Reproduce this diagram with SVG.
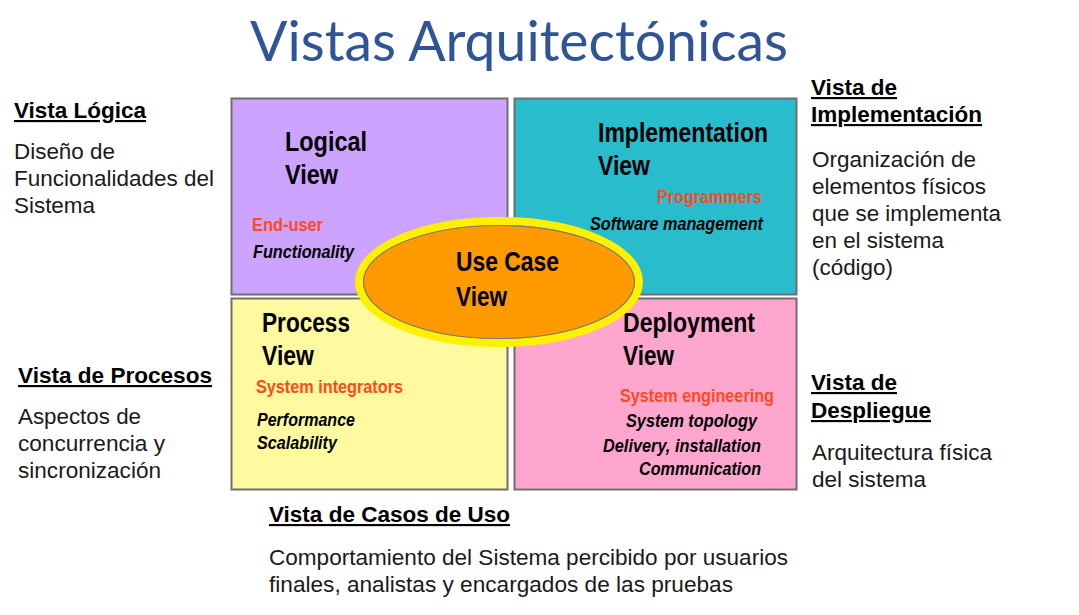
<svg xmlns="http://www.w3.org/2000/svg" width="1079" height="615" viewBox="0 0 1079 615">
  <style>
    .quad { stroke: #6e6e6e; stroke-width: 2; }
    .head { font-family: "Liberation Sans", Arial, sans-serif; font-weight: bold; font-size: 27px; fill: #000; }
    .role { font-family: "Liberation Sans", Arial, sans-serif; font-weight: bold; font-size: 18px; fill: #ff4a1c; }
    .item { font-family: "Liberation Sans", Arial, sans-serif; font-weight: bold; font-style: italic; font-size: 18px; fill: #000; }
    .side-h { font-family: "Liberation Sans", Arial, sans-serif; font-weight: bold; font-size: 21.5px; fill: #000; text-decoration: underline; }
    .side-t { font-family: "Liberation Sans", Arial, sans-serif; font-size: 22px; fill: #1a1a1a; }
    .title { font-family: Lato, "Open Sans", sans-serif; font-size: 56px; fill: #2f5597; }
  </style>

  <rect width="1079" height="615" fill="#ffffff"/>

  <text class="title" x="250" y="61" textLength="538" lengthAdjust="spacingAndGlyphs">Vistas Arquitectónicas</text>

  <g id="connectors"></g>

  <!-- Logical view quadrant -->
  <g id="logical-view">
    <rect class="quad" x="231.5" y="98.5" width="276" height="196" fill="#cca3fe"/>
    <text class="head" x="285" y="151" textLength="82" lengthAdjust="spacingAndGlyphs">Logical</text>
    <text class="head" x="285" y="184" textLength="53" lengthAdjust="spacingAndGlyphs">View</text>
    <text class="role" x="252" y="231" textLength="71" lengthAdjust="spacingAndGlyphs">End-user</text>
    <text class="item" x="253" y="258" textLength="101" lengthAdjust="spacingAndGlyphs">Functionality</text>
  </g>

  <!-- Implementation view quadrant -->
  <g id="implementation-view">
    <rect class="quad" x="514.5" y="98.5" width="282" height="196" fill="#29bccd"/>
    <text class="head" x="598" y="142" textLength="170" lengthAdjust="spacingAndGlyphs">Implementation</text>
    <text class="head" x="598" y="175" textLength="52" lengthAdjust="spacingAndGlyphs">View</text>
    <text class="role" x="657" y="203" textLength="105" lengthAdjust="spacingAndGlyphs">Programmers</text>
    <text class="item" x="590" y="230" textLength="173" lengthAdjust="spacingAndGlyphs">Software management</text>
  </g>

  <!-- Process view quadrant -->
  <g id="process-view">
    <rect class="quad" x="231.5" y="298.5" width="276" height="191" fill="#fffa9f"/>
    <text class="head" x="262" y="332" textLength="88" lengthAdjust="spacingAndGlyphs">Process</text>
    <text class="head" x="262" y="365" textLength="52" lengthAdjust="spacingAndGlyphs">View</text>
    <text class="role" x="256" y="393" textLength="147" lengthAdjust="spacingAndGlyphs">System integrators</text>
    <text class="item" x="257" y="426" textLength="98" lengthAdjust="spacingAndGlyphs">Performance</text>
    <text class="item" x="257" y="449" textLength="80" lengthAdjust="spacingAndGlyphs">Scalability</text>
  </g>

  <!-- Deployment view quadrant -->
  <g id="deployment-view">
    <rect class="quad" x="514.5" y="298.5" width="282" height="191" fill="#ffa6cf"/>
    <text class="head" x="623" y="332" textLength="132" lengthAdjust="spacingAndGlyphs">Deployment</text>
    <text class="head" x="623" y="365" textLength="51" lengthAdjust="spacingAndGlyphs">View</text>
    <text class="role" x="620" y="402" textLength="154" lengthAdjust="spacingAndGlyphs">System engineering</text>
    <text class="item" x="626" y="427" textLength="131" lengthAdjust="spacingAndGlyphs">System topology</text>
    <text class="item" x="603" y="452" textLength="158" lengthAdjust="spacingAndGlyphs">Delivery, installation</text>
    <text class="item" x="639" y="475" textLength="122" lengthAdjust="spacingAndGlyphs">Communication</text>
  </g>

  <!-- Use case view: central ellipse -->
  <g id="use-case-view">
    <ellipse cx="499" cy="282" rx="140" ry="61" fill="#ff9a00" stroke="#fff000" stroke-width="8"/>
    <ellipse cx="499" cy="282" rx="135.5" ry="56.5" fill="none" stroke="#7a7a7a" stroke-width="1.2"/>
    <text class="head" x="456" y="271" textLength="103" lengthAdjust="spacingAndGlyphs">Use Case</text>
    <text class="head" x="456" y="306" textLength="51" lengthAdjust="spacingAndGlyphs">View</text>
  </g>

  <!-- Side descriptions -->
  <g id="desc-logica">
    <text class="side-h" x="14" y="118" textLength="132" lengthAdjust="spacingAndGlyphs">Vista Lógica</text>
    <text class="side-t" x="14" y="159" textLength="101" lengthAdjust="spacingAndGlyphs">Diseño de</text>
    <text class="side-t" x="14" y="186" textLength="200" lengthAdjust="spacingAndGlyphs">Funcionalidades del</text>
    <text class="side-t" x="14" y="213" textLength="81" lengthAdjust="spacingAndGlyphs">Sistema</text>
  </g>

  <g id="desc-implementacion">
    <text class="side-h" x="811" y="95" textLength="86" lengthAdjust="spacingAndGlyphs">Vista de</text>
    <text class="side-h" x="811" y="122" textLength="171" lengthAdjust="spacingAndGlyphs">Implementación</text>
    <text class="side-t" x="812" y="167" textLength="164" lengthAdjust="spacingAndGlyphs">Organización de</text>
    <text class="side-t" x="812" y="194" textLength="174" lengthAdjust="spacingAndGlyphs">elementos físicos</text>
    <text class="side-t" x="812" y="221" textLength="189" lengthAdjust="spacingAndGlyphs">que se implementa</text>
    <text class="side-t" x="812" y="248" textLength="132" lengthAdjust="spacingAndGlyphs">en el sistema</text>
    <text class="side-t" x="812" y="275" textLength="81" lengthAdjust="spacingAndGlyphs">(código)</text>
  </g>

  <g id="desc-procesos">
    <text class="side-h" x="18" y="383" textLength="194" lengthAdjust="spacingAndGlyphs">Vista de Procesos</text>
    <text class="side-t" x="18" y="424" textLength="123" lengthAdjust="spacingAndGlyphs">Aspectos de</text>
    <text class="side-t" x="18" y="451" textLength="147" lengthAdjust="spacingAndGlyphs">concurrencia y</text>
    <text class="side-t" x="18" y="478" textLength="143" lengthAdjust="spacingAndGlyphs">sincronización</text>
  </g>

  <g id="desc-despliegue">
    <text class="side-h" x="811" y="390" textLength="86" lengthAdjust="spacingAndGlyphs">Vista de</text>
    <text class="side-h" x="811" y="418" textLength="120" lengthAdjust="spacingAndGlyphs">Despliegue</text>
    <text class="side-t" x="812" y="460" textLength="180" lengthAdjust="spacingAndGlyphs">Arquitectura física</text>
    <text class="side-t" x="812" y="487" textLength="114" lengthAdjust="spacingAndGlyphs">del sistema</text>
  </g>

  <g id="desc-casos-uso">
    <text class="side-h" x="269" y="522" textLength="241" lengthAdjust="spacingAndGlyphs">Vista de Casos de Uso</text>
    <text class="side-t" x="269" y="565" textLength="519" lengthAdjust="spacingAndGlyphs">Comportamiento del Sistema percibido por usuarios</text>
    <text class="side-t" x="269" y="592" textLength="464" lengthAdjust="spacingAndGlyphs">finales, analistas y encargados de las pruebas</text>
  </g>
</svg>
